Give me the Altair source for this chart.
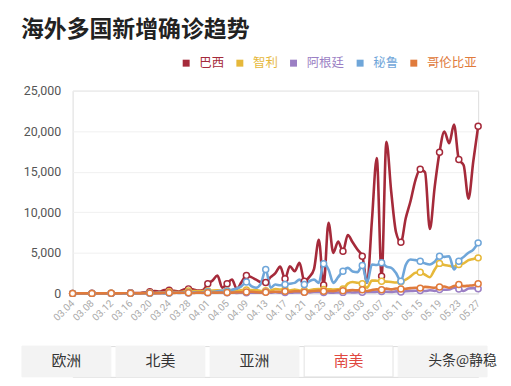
import altair as alt
import pandas as pd

FONT = "Noto Sans CJK SC"
NUM_FONT = "Roboto"

title_text = "海外多国新增确诊趋势"
countries = ["巴西", "智利", "阿根廷", "秘鲁", "哥伦比亚"]
colors = ["#a52a3a", "#e6b83a", "#9b7fc4", "#6fa6d9", "#e07b3c"]
dates = [d.strftime("%m.%d") for d in pd.date_range("2020-03-04", "2020-05-27")]
tick_labels = dates[::4]
y_ticks = [0, 5000, 10000, 15000, 20000, 25000]
tabs = ["欧洲", "北美", "亚洲", "南美", "头条@静稳"]
selected_tab = "南美"

brazil = [0, 1, 4, 1, 6, 6, 6, 12, 18, 25,
          21, 23, 79, 34, 57, 137, 193, 283, 224, 418,
          400, 310, 232, 482, 560, 487, 352, 420, 1190, 1600,
          2200, 700, 1190, 1720, 580, 1400, 2210, 2000, 1700, 1400,
          1350, 2000, 2500, 3300, 1800, 3350, 2740, 3770, 1510, 2000,
          3000, 6600, 1050, 8700, 5000, 6400, 5200, 7200, 6300, 5400,
          4580, 1310, 9000, 16700, 2130, 18700, 12500, 7500, 6300, 9258,
          11385, 13944, 15305, 14919, 7938, 13140, 17408, 19951, 18508, 20803,
          16508, 15813, 11687, 16324, 20599]
chile = [0, 0, 0, 1, 2, 1, 2, 3, 6, 6,
         10, 10, 25, 28, 14, 44, 80, 46, 104, 96,
         200, 166, 164, 220, 304, 299, 274, 293, 310, 362,
         373, 307, 344, 376, 301, 426, 430, 426, 426, 286,
         344, 357, 529, 471, 480, 367, 478, 356, 352, 396,
         494, 552, 482, 520, 473, 491, 552, 1200, 1400, 1300,
         1200, 700, 1600, 1550, 1500, 1450, 1400, 1350, 1450, 1700,
         2100, 2550, 2600, 2300, 2000, 2950, 3700, 3500, 3400, 3300,
         3560, 3700, 4100, 4250, 4380]
argentina = [0, 1, 0, 0, 5, 2, 5, 2, 2, 12,
             3, 10, 11, 9, 14, 31, 14, 30, 27, 67,
             35, 86, 87, 101, 55, 75, 80, 60, 88, 88,
             103, 98, 81, 102, 66, 87, 77, 81, 85, 74,
             162, 98, 144, 92, 100, 85, 111, 104, 149, 112,
             173, 172, 113, 102, 93, 111, 124, 158, 104, 145,
             135, 163, 165, 206, 240, 200, 183, 244, 165, 255,
             310, 316, 345, 285, 391, 303, 472, 441, 475, 700,
             550, 300, 600, 650, 580]
peru = [0, 0, 1, 0, 0, 2, 0, 2, 5, 2,
        5, 6, 17, 5, 15, 31, 11, 28, 60, 0,
        40, 80, 60, 100, 120, 100, 80, 150, 200, 180,
        250, 350, 300, 450, 600, 900, 1400, 900, 700, 1200,
        2950, 700, 1100, 1000, 1100, 1200, 1300, 1700, 1100, 1500,
        1700, 1300, 3650, 2950, 1300, 2000, 2740, 3150, 2700, 2620,
        3440, 1310, 3560, 3500, 3770, 3300, 3150, 2500, 1510, 3500,
        4180, 4100, 3970, 3700, 3560, 3900, 4580, 4500, 4580, 2950,
        3970, 4500, 5000, 5400, 6230]
colombia = [0, 0, 0, 0, 1, 0, 2, 0, 6, 2,
            7, 15, 21, 12, 7, 21, 35, 32, 38, 56,
            72, 60, 90, 70, 80, 50, 100, 80, 94, 104,
            96, 114, 98, 90, 150, 150, 170, 200, 150, 120,
            140, 180, 200, 180, 250, 200, 260, 270, 150, 250,
            300, 350, 260, 300, 280, 380, 320, 350, 400, 380,
            450, 300, 420, 500, 450, 590, 500, 600, 550, 580,
            650, 700, 650, 800, 750, 700, 800, 850, 700, 900,
            1100, 900, 950, 1000, 1190]

series = [brazil, chile, argentina, peru, colombia]
rows = []
for c, vals in zip(countries, series):
    for i, (d, v) in enumerate(zip(dates, vals)):
        rows.append({"date": d, "country": c, "cases": v, "marker": i % 4 == 0})
df = pd.DataFrame(rows)

label_expr = ""
for c, col in zip(countries, colors):
    label_expr += f"datum.value == '{c}' ? '{col}' : "
label_expr += "'#666666'"

base = alt.Chart(df).encode(
    x=alt.X("date:O", sort=dates,
            scale=alt.Scale(type="point", padding=0),
            axis=alt.Axis(values=tick_labels, labelAngle=315, labelAlign="right",
                          labelBaseline="middle", labelPadding=8, labelFontSize=10,
                          labelColor="#aaaaaa", ticks=False, domainColor="#e6e6e6",
                          grid=False, title=None, labelFont=NUM_FONT)),
    y=alt.Y("cases:Q", scale=alt.Scale(domain=[0, 25000], nice=False),
            axis=alt.Axis(values=y_ticks, format=",.0f", title=None, domain=False,
                          ticks=False, labelPadding=12, labelFontSize=12.5,
                          labelColor="#555555", gridColor="#f0f0f0",
                          minExtent=51, maxExtent=51, labelFont=NUM_FONT)),
    color=alt.Color("country:N", sort=countries,
                    scale=alt.Scale(domain=countries, range=colors),
                    legend=alt.Legend(orient="none", legendX=108, legendY=-34,
                                      direction="horizontal", title=None,
                                      symbolType="square", symbolSize=9,
                                      symbolStrokeWidth=4, labelFontSize=12.5,
                                      labelFont=FONT, labelOffset=7,
                                      columnPadding=5, padding=0,
                                      labelColor={"expr": label_expr})),
)

lines = base.mark_line(interpolate="monotone", strokeWidth=2.6)
points = base.transform_filter(alt.datum.marker).mark_point(
    shape="circle", filled=False, fill="white", fillOpacity=1,
    size=36, strokeWidth=1.5, opacity=1)

main = (lines + points).properties(width=408, height=204)

tab_df = pd.DataFrame({"tab": tabs})
tab_base = alt.Chart(tab_df).encode(
    x=alt.X("tab:N", sort=tabs,
            scale=alt.Scale(paddingInner=0.055, paddingOuter=0, range=[-51, 417]),
            axis=None))
tab_rects = tab_base.mark_rect().encode(
    fill=alt.condition(alt.datum.tab == selected_tab, alt.value("white"), alt.value("#f3f3f3")),
    stroke=alt.condition(alt.datum.tab == selected_tab, alt.value("#e2e2e2"), alt.value("#f3f3f3")))
tab_texts = tab_base.transform_filter(alt.datum.tab != tabs[-1]).mark_text(
    fontSize=15, font=FONT).encode(
    text="tab:N",
    color=alt.condition(alt.datum.tab == selected_tab, alt.value("#e0483f"), alt.value("#333333")))
watermark = tab_base.transform_filter(alt.datum.tab == tabs[-1]).mark_text(
    fontSize=14, font=FONT, dx=20, color="#333333").encode(text="tab:N")
tab_chart = (tab_rects + tab_texts + watermark).properties(width=408, height=31)

chart = alt.vconcat(main, tab_chart, spacing=22).properties(
    title=alt.TitleParams(title_text, anchor="start", fontSize=23, font=FONT,
                          fontWeight="bold", color="#222222", offset=15, frame="bounds"),
    padding={"left": 13, "top": 10, "right": 5, "bottom": 0},
).configure_view(stroke=None).configure(font=FONT)

chart.save("out.html", embed_options={"renderer": "svg", "actions": False})
